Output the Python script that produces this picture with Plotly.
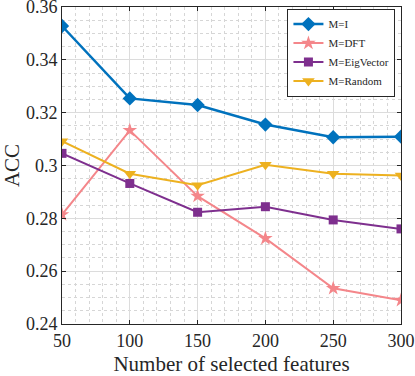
import plotly.graph_objects as go

x_vals = [50, 100, 150, 200, 250, 300]
acc_I = [0.3528, 0.3254, 0.3229, 0.3155, 0.3107, 0.3109]
acc_DFT = [0.2814, 0.3133, 0.2884, 0.2724, 0.2535, 0.2490]
acc_Eig = [0.3046, 0.2932, 0.2823, 0.2844, 0.2794, 0.2760]
acc_Rand = [0.3092, 0.2969, 0.2925, 0.3003, 0.2969, 0.2962]
y_ticks = [0.24, 0.26, 0.28, 0.30, 0.32, 0.34, 0.36]
y_tick_text = ["0.24", "0.26", "0.28", "0.3", "0.32", "0.34", "0.36"]

series = [
    ("M=I", acc_I, "#0072BD", "diamond", 11, 2.5),
    ("M=DFT", acc_DFT, "#F4868A", "star", 11, 2),
    ("M=EigVector", acc_Eig, "#7E2F8E", "square", 9, 2),
    ("M=Random", acc_Rand, "#EDB120", "triangle-down", 11, 2),
]

fig = go.Figure()
for name, ys, color, sym, size, w in series:
    fig.add_trace(go.Scatter(
        x=x_vals, y=ys, name=name, mode="lines+markers",
        line=dict(color=color, width=w),
        marker=dict(symbol=sym, size=size, color=color, line=dict(width=0)),
    ))

font = "Liberation Serif, Times New Roman, serif"
axis_common = dict(
    showline=True, linecolor="#262626", linewidth=1, mirror="ticks",
    ticks="inside", ticklen=4, tickcolor="#262626",
    showgrid=True, gridcolor="#DCDCDC", gridwidth=1,
    zeroline=False, ticklabeloverflow="allow", automargin=False,
    tickfont=dict(family=font, size=18, color="#262626"),
)
fig.update_layout(
    width=415, height=376,
    margin=dict(l=62, r=14, t=7, b=52),
    paper_bgcolor="white", plot_bgcolor="white",
    font=dict(family=font, color="#262626"),
    xaxis=dict(
        range=[50, 300], tickmode="array", tickvals=x_vals,
        title=dict(text="Number of selected features", font=dict(family=font, size=21), standoff=9),
        minor=dict(dtick=10, showgrid=True, gridcolor="#D6D6D6", griddash="dot", ticks=""),
        **axis_common,
    ),
    yaxis=dict(
        range=[0.24, 0.36], tickmode="array",
        tickvals=y_ticks, ticktext=y_tick_text,
        title=dict(text="ACC", font=dict(family=font, size=21), standoff=0),
        minor=dict(dtick=0.005, showgrid=True, gridcolor="#D6D6D6", griddash="dot", ticks=""),
        **axis_common,
    ),
    legend=dict(
        x=0.665, y=0.995, xanchor="left", yanchor="top",
        bgcolor="white", bordercolor="#262626", borderwidth=1,
        font=dict(family=font, size=11, color="#262626"),
        tracegroupgap=0, itemwidth=30,
    ),
)

fig.write_html("out.html", config={"displayModeBar": False},
               post_script="document.body.style.margin='0';")
